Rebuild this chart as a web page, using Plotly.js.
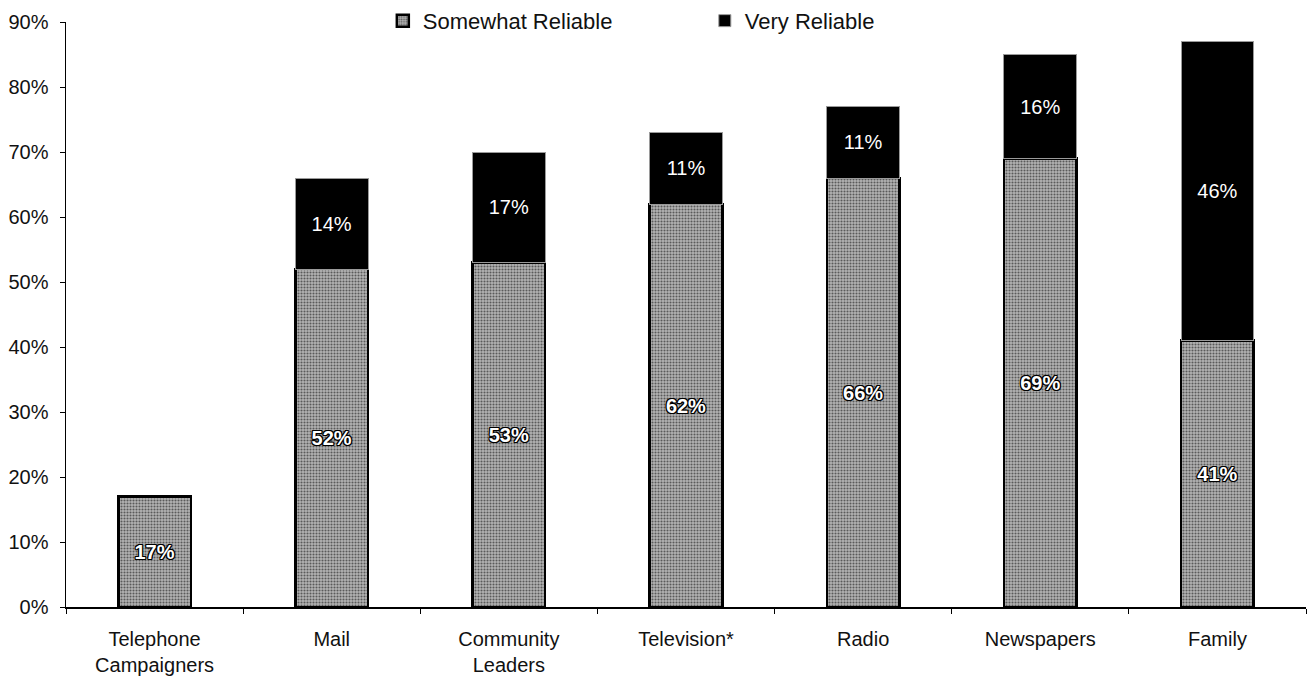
<!DOCTYPE html>
<html>
<head>
<meta charset="utf-8">
<script src="https://cdn.plot.ly/plotly-3.0.1.min.js"></script>
<style>
  html, body { margin: 0; padding: 0; background: #fff; }
  #chart { width: 1309px; height: 680px; }
</style>
</head>
<body>
<div id="chart"></div>
<script>
// Data (percent of respondents)
var categories = ["Telephone<br>Campaigners", "Mail", "Community<br>Leaders", "Television*", "Radio", "Newspapers", "Family"];
var somewhatReliable = [17, 52, 53, 62, 66, 69, 41];
var veryReliable = [null, 14, 17, 11, 11, 16, 46];
var yTickValues = [0, 10, 20, 30, 40, 50, 60, 70, 80, 90];
var yTickLabels = ["0%", "10%", "20%", "30%", "40%", "50%", "60%", "70%", "80%", "90%"];

var FONT = "Liberation Sans, Arial, Helvetica, sans-serif";
var outline = "1px 1px 0 #000, -1px -1px 0 #000, 1px -1px 0 #000, -1px 1px 0 #000, 0 1px 0 #000, 0 -1px 0 #000, 1px 0 0 #000, -1px 0 0 #000";

var traces = [
  {
    type: "bar",
    name: "Somewhat Reliable",
    x: categories,
    y: somewhatReliable,
    texttemplate: "%{y}%",
    textposition: "inside",
    insidetextanchor: "middle",
    textangle: 0,
    constraintext: "none",
    insidetextfont: { family: FONT, size: 20, color: "#ffffff", weight: "bold", shadow: outline },
    marker: {
      color: "#a8a8a8",
      line: { color: "#000000", width: 2.5 },
      pattern: { shape: ".", fgcolor: "#5a5a5a", bgcolor: "#b4b4b4", size: 3, solidity: 0.4, fillmode: "replace" }
    },
    hoverinfo: "x+y"
  },
  {
    type: "bar",
    name: "Very Reliable",
    x: categories,
    y: veryReliable,
    texttemplate: "%{y}%",
    textposition: "inside",
    insidetextanchor: "middle",
    textangle: 0,
    constraintext: "none",
    insidetextfont: { family: FONT, size: 20, color: "#ffffff" },
    marker: {
      color: "#000000",
      line: { color: "#9a9a9a", width: 1 }
    },
    hoverinfo: "x+y"
  }
];

var layout = {
  width: 1309,
  height: 680,
  margin: { l: 66, r: 3, t: 22, b: 73, autoexpand: false },
  paper_bgcolor: "#ffffff",
  plot_bgcolor: "#ffffff",
  barmode: "stack",
  bargap: 0.59,
  font: { family: FONT, size: 20, color: "#111111" },
  showlegend: true,
  legend: {
    orientation: "h",
    x: 0.2555,
    xanchor: "left",
    y: 1.002,
    yanchor: "middle",
    font: { family: FONT, size: 22, color: "#111111" },
    bgcolor: "rgba(0,0,0,0)",
    entrywidth: 277,
    entrywidthmode: "pixels",
    traceorder: "normal"
  },
  xaxis: {
    type: "category",
    showline: true,
    linecolor: "#000000",
    linewidth: 1.5,
    ticks: "outside",
    tickson: "boundaries",
    ticklen: 5,
    tickcolor: "#000000",
    showgrid: false,
    zeroline: false,
    tickfont: { family: FONT, size: 20, color: "#111111" },
    ticklabelstandoff: 13
  },
  yaxis: {
    range: [0, 90],
    tickvals: yTickValues,
    ticktext: yTickLabels,
    showline: true,
    linecolor: "#000000",
    linewidth: 1.5,
    ticks: "outside",
    ticklen: 5,
    tickcolor: "#000000",
    showgrid: false,
    zeroline: false,
    tickfont: { family: FONT, size: 20, color: "#111111" },
    ticklabelstandoff: 7
  }
};

Plotly.newPlot("chart", traces, layout, { displayModeBar: false, staticPlot: true });
</script>
</body>
</html>
